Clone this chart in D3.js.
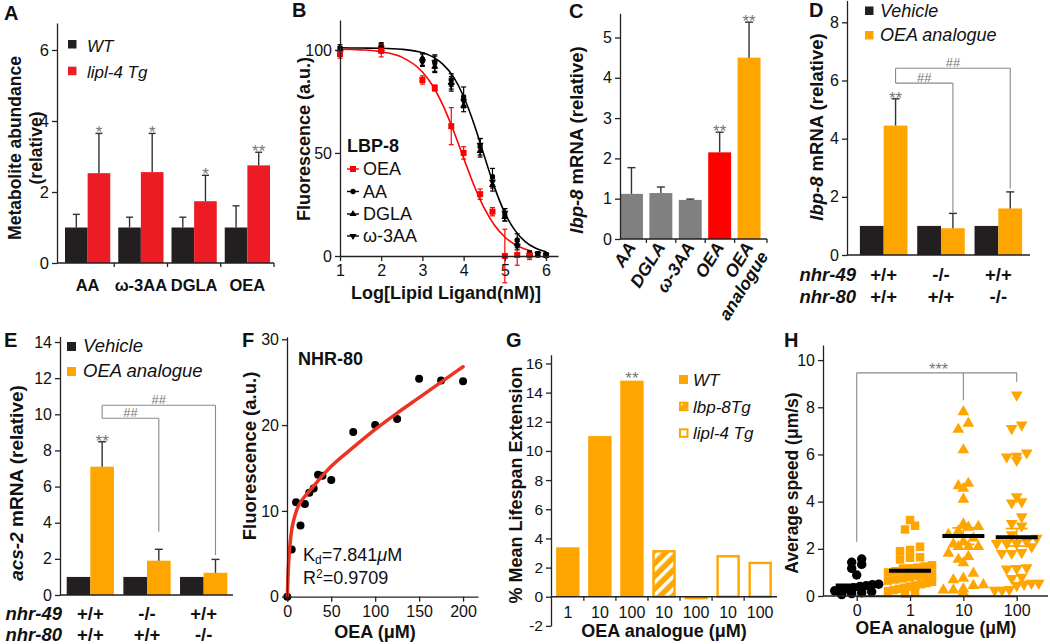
<!DOCTYPE html>
<html>
<head>
<meta charset="utf-8">
<script src="https://cdn.jsdelivr.net/npm/d3@7/dist/d3.min.js"></script>
<style>
html,body{margin:0;padding:0;background:#fff;}
svg{display:block;}
</style>
</head>
<body>
<script>
// ================= DATA =================
// Panel A
const aCategories = ["AA", "ω-3AA", "DGLA", "OEA"];
const aWT = [1.0, 1.0, 1.0, 1.0];
const aWTErrTop = [1.37, 1.29, 1.29, 1.61];
const aTg = [2.53, 2.56, 1.74, 2.75];
const aTgErrTop = [3.65, 3.65, 2.47, 3.12];
const aStars = ["*", "*", "*", "**"];
const aLegend = ["WT", "lipl-4 Tg"];
const aTicks = [0, 2, 4, 6];

// Panel B
const bX = [1, 2, 3, 3.3, 3.7, 4, 4.4, 4.7, 5, 5.3, 5.6, 5.8, 6];
const bAA = [101, 101.5, 95.5, 93.6, 85.4, 77, 53, 38.5, 20, 7.8, 1.5, 1, 0.5];
const bAAErr = [1.5, 2, 3, 4, 3, 5, 4, 4, 3, 3, 1, 1, 1];
const bDGLA = [100, 100.5, 96, 92, 84, 73, 51, 34.5, 19, 6, 1, 0.5, 0.5];
const bDGLAErr = [1.5, 2, 2, 3, 3, 3, 3, 3, 2, 2, 1, 1, 1];
const bW3AA = [99, 101, 94, 94, 83, 75, 54, 36, 21, 5, 0.5, 1, 0.3];
const bW3AAErr = [1.5, 2, 2, 3, 3, 3, 3, 3, 2, 2, 1, 1, 1];
const bXOEA = [1, 2, 3, 3.3, 3.7, 4, 4.4, 4.7, 5, 5.3, 5.6];
const bOEA = [98, 99.6, 85.4, 81.5, 63, 50, 30, 21.5, 0, 0.5, 0.3];
const bOEAErr = [2, 3, 2, 1.5, 9, 3, 2.5, 2, 13, 5, 2];
const bFitX = [1, 1.5, 2, 2.5, 3, 3.25, 3.5, 3.75, 4, 4.25, 4.5, 4.75, 5, 5.25, 5.5, 5.75, 6];
const bFitBlack = [101, 100.9, 100.8, 100.3, 98.6, 96.6, 93.0, 87.0, 77.4, 64.2, 48.6, 33.3, 20.9, 12.3, 6.9, 3.8, 2.1];
const bFitRedX = [1, 1.5, 2, 2.5, 3, 3.25, 3.5, 3.75, 4, 4.25, 4.5, 4.75, 5, 5.25, 5.5, 5.6];
const bFitRed = [100.3, 100.0, 99.1, 96.5, 89.3, 82.6, 73.1, 61.0, 47.5, 34.3, 23.2, 14.9, 9.2, 5.5, 3.3, 2.7];
const bLegend = ["OEA", "AA", "DGLA", "ω-3AA"];
const bXTicks = [1, 2, 3, 4, 5, 6];
const bYTicks = [0, 50, 100];

// Panel C
const cCategories = ["AA", "DGLA", "ω-3AA", "OEA", "OEA analogue"];
const cValues = [1.12, 1.14, 0.97, 2.15, 4.5];
const cErrTop = [1.77, 1.29, 0.99, 2.65, 5.38];
const cStars = ["", "", "", "**", "**"];
const cTicks = [0, 1, 2, 3, 4, 5];

// Panel D
const dNhr49 = ["+/+", "-/-", "+/+"];
const dNhr80 = ["+/+", "+/+", "-/-"];
const dVehicle = [1, 1, 1];
const dOEA = [4.45, 0.92, 1.6];
const dOEAErrTop = [5.37, 1.43, 2.17];
const dStars = ["**", "", ""];
const dTicks = [0, 2, 4, 6, 8];
const dBrackets = [{ to: 1, y: 5.91, drop: 1.44, label: "##" }, { to: 2, y: 6.42, drop: 2.29, label: "##" }];

// Panel E
const eNhr49 = ["+/+", "-/-", "+/+"];
const eNhr80 = ["+/+", "+/+", "-/-"];
const eVehicle = [1, 1, 1];
const eOEA = [7.1, 1.9, 1.23];
const eOEAErrTop = [8.48, 2.53, 1.97];
const eStars = ["**", "", ""];
const eTicks = [0, 2, 4, 6, 8, 10, 12, 14];
const eBrackets = [{ to: 1, y: 9.78, drop: 3.5, label: "##" }, { to: 2, y: 10.5, drop: 2.21, label: "##" }];

// Panel F
const fX = [0, 5, 10, 15, 20, 25, 30, 35, 40, 50, 75, 100, 125, 150, 175, 200];
const fY = [0, 5.5, 11.0, 8.3, 10.8, 12.1, 12.6, 14.2, 14.1, 13.6, 19.2, 20.0, 20.7, 25.4, 25.2, 25.1];
const fFitX = [0, 1, 2, 3, 5, 7.5, 10, 15, 20, 25, 30, 40, 50, 75, 100, 125, 150, 175, 200];
const fFitY = [0, 3.0, 4.8, 6.0, 7.8, 9.0, 9.9, 11.0, 11.7, 12.3, 12.9, 14.1, 15.2, 17.4, 19.5, 21.4, 23.2, 25.0, 26.8];
const fXTicks = [0, 50, 100, 150, 200];
const fYTicks = [0, 10, 20, 30];

// Panel G
const gLabels = ["1", "10", "100", "10", "100", "10", "100"];
const gValues = [3.39, 11.02, 14.82, 3.2, -0.18, 2.86, 2.4];
const gStrain = ["WT", "WT", "WT", "lbp-8Tg", "lbp-8Tg", "lipl-4 Tg", "lipl-4 Tg"];
const gStars = ["", "", "**", "", "", "", ""];
const gLegend = ["WT", "lbp-8Tg", "lipl-4 Tg"];
const gTicks = [-2, 0, 2, 4, 6, 8, 10, 12, 14, 16];

// Panel H
const hCategories = ["0", "1", "10", "100"];
const h0 = [1.57, 1.43, 1.34, 1.17, 0.89, 0.5, 0.48, 0.44, 0.4, 0.35, 0.3, 0.26, 0.22, 0.18, 0.14, 0.1, 0.06];
const h1 = [3.22, 2.98, 2.82, 2.09, 1.95, 1.9, 1.64, 1.62, 1.55, 1.3, 1.25, 1.2, 1.15, 1.1, 1.05, 1.0, 0.95, 0.9, 0.85, 0.8, 0.75, 0.7, 0.65, 0.6, 0.55, 0.5, 0.45, 0.4, 0.35, 0.3, 0.25, 0.2, 0.15, 0.1];
const h10 = [7.81, 7.32, 7.06, 6.19, 4.77, 4.67, 4.56, 4.1, 3.05, 2.94, 2.91, 2.75, 2.6, 2.45, 2.3, 2.2, 2.09, 2.09, 2.09, 1.81, 1.67, 1.55, 1.4, 0.96, 0.75, 0.68, 0.47, 0.44, 0.3, 0.25, 0.25, 0.15];
const h100 = [8.52, 7.25, 7.1, 6.07, 5.93, 5.9, 5.76, 4.21, 4.0, 3.95, 3.36, 3.08, 2.97, 2.6, 2.45, 2.3, 2.23, 2.23, 2.23, 2.09, 1.85, 1.81, 1.81, 1.2, 1.17, 1.15, 0.8, 0.75, 0.54, 0.54, 0.5, 0.45, 0.28, 0.25, 0.25];
const hMeans = [0.45, 1.07, 2.54, 2.49];
const hSEM = [0.1, 0.24, 0.35, 0.37];
const hTicks = [0, 2, 4, 6, 8, 10];
const hBracket = { y: 9.46, drops: [2.3, null, 8.3, 9.07], label: "***" };

// ================= DRAWING =================
const svg = d3.select("body").append("svg").attr("width", 1050).attr("height", 644);
const FONT = "'Liberation Sans', Arial, Helvetica, sans-serif";
const BLACK = "#231f20", RED_A = "#ed1c24", GREY = "#808080", RED = "#ff0000", ORANGE = "#ffa500";
const AX = "#222", SIG = "#8a8a8a", STAR = "#777";

const defs = svg.append("defs");
const pat = defs.append("pattern").attr("id", "hatch").attr("patternUnits", "userSpaceOnUse")
  .attr("width", 9).attr("height", 9).attr("patternTransform", "rotate(45)");
pat.append("rect").attr("width", 9).attr("height", 9).attr("fill", ORANGE);
pat.append("rect").attr("width", 3.5).attr("height", 9).attr("fill", "#fff");

function T(x, y, s, o = {}) {
  return svg.append("text").attr("x", x).attr("y", y).text(s)
    .attr("font-family", FONT).attr("font-size", o.fs || 16)
    .attr("font-weight", o.bold ? "bold" : "normal")
    .attr("font-style", o.italic ? "italic" : "normal")
    .attr("text-anchor", o.anchor || "start")
    .attr("fill", o.fill || "#111");
}
function rotTitle(x, cy, parts, fs) {
  const t = svg.append("text").attr("transform", `translate(${x},${cy}) rotate(-90)`)
    .attr("text-anchor", "middle").attr("font-family", FONT).attr("font-size", fs)
    .attr("font-weight", "bold").attr("fill", "#111");
  parts.forEach(p => t.append("tspan").attr("font-style", p[1] ? "italic" : "normal").text(p[0]));
  return t;
}
function line(x1, y1, x2, y2, col = AX, w = 1.3) {
  svg.append("line").attr("x1", x1).attr("y1", y1).attr("x2", x2).attr("y2", y2)
    .attr("stroke", col).attr("stroke-width", w);
}
function rect(x, y, w, h, fill) {
  return svg.append("rect").attr("x", x).attr("y", y).attr("width", w).attr("height", h).attr("fill", fill);
}
function errUp(x, y0, y1, cap = 7, col = "#333") {
  line(x, y0, x, y1, col, 1.4);
  line(x - cap / 2, y1, x + cap / 2, y1, col, 1.4);
}
function star(x, yPx, s, fs = 17) {
  if (!s) return;
  T(x, yPx + 5, s, { fs: fs, anchor: "middle", fill: STAR });
}
function styleAxis(g, fs) {
  g.attr("font-family", FONT);
  g.select(".domain").attr("stroke", AX).attr("stroke-width", 1.3);
  g.selectAll(".tick line").attr("stroke", AX).attr("stroke-width", 1.3);
  g.selectAll(".tick text").attr("font-size", fs).attr("fill", "#111").attr("font-family", FONT);
}
function leftAxis(x, scale, ticks, fs = 16) {
  const ax = d3.axisLeft(scale).tickValues(ticks).tickSize(5).tickSizeOuter(0).tickPadding(3).tickFormat(d => String(d));
  const g = svg.append("g").attr("transform", `translate(${x},0)`).call(ax);
  styleAxis(g, fs);
  return g;
}
function bottomAxis(y, scale, ticks, fs = 16) {
  const ax = d3.axisBottom(scale).tickValues(ticks).tickSize(5).tickSizeOuter(0).tickPadding(4).tickFormat(d => String(d));
  const g = svg.append("g").attr("transform", `translate(0,${y})`).call(ax);
  styleAxis(g, fs);
  return g;
}

// ---------- Panel A ----------
(function () {
  const y = d3.scaleLinear([0, 6.76], [263, 23]);
  const gx = d3.scaleBand(aCategories, [61, 274]).paddingInner(0.15).paddingOuter(0.075);
  const sx = d3.scaleBand([0, 1], [0, gx.bandwidth()]);
  const bw = sx.bandwidth();
  aCategories.forEach((c, i) => {
    const x0 = gx(c);
    rect(x0, y(aWT[i]), bw, y(0) - y(aWT[i]), BLACK);
    rect(x0 + bw, y(aTg[i]), bw, y(0) - y(aTg[i]), RED_A);
    errUp(x0 + bw / 2, y(aWT[i]), y(aWTErrTop[i]));
    errUp(x0 + bw * 1.5, y(aTg[i]), y(aTgErrTop[i]));
    star(x0 + bw * 1.5, y(aTgErrTop[i]), aStars[i]);
    T(x0 + gx.bandwidth() / 2, 291, c, { fs: 16.5, bold: true, anchor: "middle" });
    const tb = x0 + gx.bandwidth() + gx.step() * gx.paddingInner() / 2;
    line(tb, y(0), tb, y(0) + 4);
  });
  leftAxis(57, y, aTicks, 16.5);
  line(57, y(0), 274, y(0));
  rect(68, 40, 8.5, 8.5, BLACK);
  rect(68, 66.7, 8.5, 8.5, RED_A);
  T(87, 51.5, aLegend[0], { fs: 17, italic: true });
  T(87, 77.5, aLegend[1], { fs: 17, italic: true });
  rotTitle(21, 148, [["Metabolite abundance", false]], 17.5);
  rotTitle(42, 148, [["(relative)", false]], 17.5);
  T(4, 20, "A", { fs: 20, bold: true });
})();

// ---------- Panel B ----------
(function () {
  const x = d3.scaleLinear([1, 6.29], [340, 558]);
  const y = d3.scaleLinear([0, 114.5], [256, 20]);
  const ln = d3.line().x(d => x(d[0])).y(d => y(d[1])).curve(d3.curveMonotoneX);
  svg.append("path").attr("d", ln(bFitX.map((v, i) => [v, bFitBlack[i]]))).attr("fill", "none").attr("stroke", "#000").attr("stroke-width", 1.6);
  svg.append("path").attr("d", ln(bFitRedX.map((v, i) => [v, bFitRed[i]]))).attr("fill", "none").attr("stroke", RED).attr("stroke-width", 1.6);
  function errs(xs, ys, es, col) {
    xs.forEach((v, i) => {
      const px = x(v);
      line(px, y(ys[i] - es[i]), px, y(ys[i] + es[i]), col, 1.2);
      line(px - 2.5, y(ys[i] + es[i]), px + 2.5, y(ys[i] + es[i]), col, 1.2);
      line(px - 2.5, y(ys[i] - es[i]), px + 2.5, y(ys[i] - es[i]), col, 1.2);
    });
  }
  errs(bX, bAA, bAAErr, "#000");
  errs(bX, bDGLA, bDGLAErr, "#000");
  errs(bX, bW3AA, bW3AAErr, "#000");
  errs(bXOEA, bOEA, bOEAErr, RED);
  const sym = (type, size) => d3.symbol().type(type).size(size)();
  bX.forEach((v, i) => {
    svg.append("path").attr("d", sym(d3.symbolCircle, 22)).attr("transform", `translate(${x(v)},${y(bAA[i])})`).attr("fill", "#000");
    svg.append("path").attr("d", sym(d3.symbolTriangle, 22)).attr("transform", `translate(${x(v)},${y(bDGLA[i])})`).attr("fill", "#000");
    svg.append("path").attr("d", sym(d3.symbolTriangle, 22)).attr("transform", `translate(${x(v)},${y(bW3AA[i])}) rotate(180)`).attr("fill", "#000");
  });
  bXOEA.forEach((v, i) => {
    rect(x(v) - 3, y(bOEA[i]) - 3, 6, 6, RED);
  });
  leftAxis(340, y, bYTicks, 16);
  bottomAxis(256, x, bXTicks, 16);
  // legend
  T(347, 152, "LBP-8", { fs: 18, bold: true });
  const ly = [175, 197.5, 220, 242];
  bLegend.forEach((s, i) => {
    const col = i === 0 ? RED : "#000";
    const my = ly[i] - 6;
    line(347, my, 359, my, col, 1.4);
    if (i === 0) rect(350, my - 3, 6, 6, RED);
    else if (i === 1) svg.append("path").attr("d", sym(d3.symbolCircle, 22)).attr("transform", `translate(353,${my})`).attr("fill", "#000");
    else if (i === 2) svg.append("path").attr("d", sym(d3.symbolTriangle, 22)).attr("transform", `translate(353,${my})`).attr("fill", "#000");
    else svg.append("path").attr("d", sym(d3.symbolTriangle, 22)).attr("transform", `translate(353,${my}) rotate(180)`).attr("fill", "#000");
    T(363, ly[i], s, { fs: 18 });
  });
  rotTitle(310, 139, [["Fluorescence (a.u.)", false]], 18);
  T(446, 299, "Log[Lipid Ligand(nM)]", { fs: 18, bold: true, anchor: "middle" });
  T(292, 17, "B", { fs: 20, bold: true });
})();

// ---------- Panel C ----------
(function () {
  const y = d3.scaleLinear([0, 5.6], [239, 13.3]);
  const x = d3.scaleBand(cCategories, [620, 767]).paddingInner(0.22).paddingOuter(0.11).align(0);
  const cols = [GREY, GREY, GREY, RED, ORANGE];
  const bw = x.bandwidth();
  cCategories.forEach((c, i) => {
    rect(x(c), y(cValues[i]), bw, y(0) - y(cValues[i]), cols[i]);
    errUp(x(c) + bw / 2, y(cValues[i]), y(cErrTop[i]), 8);
    star(x(c) + bw / 2, y(cErrTop[i]), cStars[i]);
    if (i > 0) line(x(c) - 3, y(0), x(c) - 3, y(0) + 4);
    const lx = x(c) + bw / 2 + 5, lyy = 247;
    const t = svg.append("text").attr("transform", `translate(${lx},${lyy}) rotate(-58)`)
      .attr("text-anchor", "end").attr("font-family", FONT).attr("font-size", 17.5)
      .attr("font-weight", "bold").attr("font-style", "italic").attr("fill", "#111");
    const parts = c.split(" ");
    parts.forEach((p, k) => t.append("tspan").attr("x", 0).attr("dy", k === 0 ? 0 : "1.0em").text(p));
  });
  line(767, y(0), 767, y(0) + 4);
  leftAxis(620, y, cTicks, 16);
  line(620, y(0), 767, y(0));
  rotTitle(583, 140, [["lbp-8", true], [" mRNA (relative)", false]], 18.5);
  T(569, 18, "C", { fs: 20, bold: true });
})();

// ---------- Panels D and E (genotype bars) ----------
function genoPanel(cfg) {
  const { y, gx, veh, oea, errTop, stars, brackets, axisX, axisEnd, ticks, g49, g80, rowX, row1, row2, fs } = cfg;
  const sx = d3.scaleBand([0, 1], [0, gx.bandwidth()]);
  const bw = sx.bandwidth();
  veh.forEach((v, i) => {
    const x0 = gx(i);
    rect(x0, y(v), bw, y(0) - y(v), BLACK);
    rect(x0 + bw, y(oea[i]), bw, y(0) - y(oea[i]), ORANGE);
    errUp(x0 + bw * 1.5, y(oea[i]), y(errTop[i]), 8);
    star(x0 + bw * 1.5, y(errTop[i]), stars[i]);
    const cx = x0 + gx.bandwidth() / 2;
    T(cx, row1, g49[i], { fs: fs, bold: true, anchor: "middle" });
    T(cx, row2, g80[i], { fs: fs, bold: true, anchor: "middle" });
  });
  const xc = i => gx(i) + bw * 1.5;
  const ys = brackets.map(b => y(b.y));
  line(xc(0), d3.min(ys), xc(0), d3.max(ys), SIG, 1.1);
  brackets.forEach(b => {
    line(xc(0), y(b.y), xc(b.to), y(b.y), SIG, 1.1);
    line(xc(b.to), y(b.y), xc(b.to), y(b.drop), SIG, 1.1);
    T((xc(0) + xc(b.to)) / 2, y(b.y) - 1.5, b.label, { fs: 13, anchor: "middle", fill: "#777" });
  });
  leftAxis(axisX, y, ticks, 16);
  line(axisX, y(0), axisEnd, y(0));
  T(rowX, row1, "nhr-49", { fs: fs, bold: true, italic: true, anchor: "end" });
  T(rowX, row2, "nhr-80", { fs: fs, bold: true, italic: true, anchor: "end" });
}

(function () {
  const y = d3.scaleLinear([0, 8.75], [255, 0.5]);
  const gx = d3.scaleBand([0, 1, 2], [855, 1027]).paddingInner(0.17).paddingOuter(0.085);
  genoPanel({ y, gx, veh: dVehicle, oea: dOEA, errTop: dOEAErrTop, stars: dStars, brackets: dBrackets,
    axisX: 847, axisEnd: 1030, ticks: dTicks, g49: dNhr49, g80: dNhr80, rowX: 856, row1: 281, row2: 303, fs: 18.5 });
  rect(865, 6.5, 8.5, 8.5, BLACK);
  rect(865, 31, 8.5, 8.5, ORANGE);
  T(880, 16.7, "Vehicle", { fs: 18, italic: true });
  T(880, 41, "OEA analogue", { fs: 18, italic: true });
  rotTitle(823, 127, [["lbp-8", true], [" mRNA (relative)", false]], 18.5);
  T(809, 17, "D", { fs: 20, bold: true });
})();

(function () {
  const y = d3.scaleLinear([0, 14.3], [595, 336.6]);
  const gx = d3.scaleBand([0, 1, 2], [62, 232]).paddingInner(0.166).paddingOuter(0.083);
  genoPanel({ y, gx, veh: eVehicle, oea: eOEA, errTop: eOEAErrTop, stars: eStars, brackets: eBrackets,
    axisX: 60, axisEnd: 233, ticks: eTicks, g49: eNhr49, g80: eNhr80, rowX: 62, row1: 619.5, row2: 640.5, fs: 18.5 });
  rect(67, 342, 9, 9, BLACK);
  rect(67, 367, 9, 9, ORANGE);
  T(83, 352.3, "Vehicle", { fs: 18.5, italic: true });
  T(83, 377.3, "OEA analogue", { fs: 18.5, italic: true });
  rotTitle(23, 483, [["acs-2", true], [" mRNA (relative)", false]], 19);
  T(4, 347, "E", { fs: 20, bold: true });
})();

// ---------- Panel F ----------
(function () {
  const x = d3.scaleLinear([0, 217], [287.3, 478]);
  const y = d3.scaleLinear([0, 30.3], [596.7, 336.7]);
  fX.forEach((v, i) => {
    svg.append("circle").attr("cx", x(v)).attr("cy", y(fY[i])).attr("r", 4).attr("fill", "#000");
  });
  const ln = d3.line().x(d => x(d[0])).y(d => y(d[1])).curve(d3.curveMonotoneX);
  svg.append("path").attr("d", ln(fFitX.map((v, i) => [v, fFitY[i]]))).attr("fill", "none")
    .attr("stroke", "#ee3322").attr("stroke-width", 3.5).attr("stroke-linecap", "round");
  leftAxis(287, y, fYTicks, 16);
  bottomAxis(596.7, x, fXTicks, 16);
  T(298, 365, "NHR-80", { fs: 18, bold: true });
  const k = T(303, 561, "K", { fs: 18 });
  k.append("tspan").attr("font-size", 12).attr("dy", 2.5).text("d");
  k.append("tspan").attr("dy", -2.5).text("=7.841");
  k.append("tspan").attr("font-style", "italic").text("μ");
  k.append("tspan").text("M");
  const r = T(303, 584, "R", { fs: 18 });
  r.append("tspan").attr("font-size", 12).attr("dy", -6).text("2");
  r.append("tspan").attr("dy", 6).text("=0.9709");
  rotTitle(256, 456, [["Fluorescence (a.u.)", false]], 18.5);
  T(375, 638, "OEA (μM)", { fs: 18, bold: true, anchor: "middle" });
  T(242, 347, "F", { fs: 20, bold: true });
})();

// ---------- Panel G ----------
(function () {
  const y = d3.scaleLinear([-2, 16.6], [625.9, 354.7]);
  const idx = d3.range(gValues.length);
  const x = d3.scaleBand(idx, [551, 777]).paddingInner(0.27).paddingOuter(0.16);
  const bw = x.bandwidth();
  idx.forEach(i => {
    const v = gValues[i];
    const top = Math.min(y(v), y(0)), h = Math.abs(y(v) - y(0));
    const s = gStrain[i];
    if (s === "WT") rect(x(i), top, bw, h, ORANGE);
    else if (s === "lbp-8Tg") {
      if (h > 4) rect(x(i) + 1.2, top + 1.2, bw - 2.4, h - 1.2, "url(#hatch)").attr("stroke", ORANGE).attr("stroke-width", 2.4);
      else rect(x(i), top, bw, h, ORANGE);
    } else rect(x(i) + 1.2, top + 1.2, bw - 2.4, h - 1.2, "#fff").attr("stroke", ORANGE).attr("stroke-width", 2.4);
    star(x(i) + bw / 2, y(v) - 2, gStars[i]);
    T(x(i) + bw / 2, 618, gLabels[i], { fs: 16, anchor: "middle" });
    if (i > 0) line(x(i) - x.step() * x.paddingInner() / 2, y(0), x(i) - x.step() * x.paddingInner() / 2, y(0) + 4);
  });
  leftAxis(551, y, gTicks, 15.5);
  line(551, y(0), 777, y(0));
  // legend
  const lyq = [375, 401.7, 428.3];
  rect(679, lyq[0], 9, 9, ORANGE);
  rect(680, lyq[1] + 1, 7.5, 7.5, "url(#hatch)").attr("stroke", ORANGE).attr("stroke-width", 2);
  rect(680, lyq[2] + 1, 7.5, 7.5, "#fff").attr("stroke", ORANGE).attr("stroke-width", 2);
  gLegend.forEach((s, i) => T(693, lyq[i] + 11, s, { fs: 17, italic: true }));
  rotTitle(522, 485, [["% Mean Lifespan Extension", false]], 18);
  T(664, 637, "OEA analogue (μM)", { fs: 18, bold: true, anchor: "middle" });
  T(506, 347, "G", { fs: 20, bold: true });
})();

// ---------- Panel H ----------
(function () {
  const x = d3.scalePoint(hCategories, [856.7, 1016.7]);
  const y = d3.scaleLinear([0, 10.64], [596, 345]);
  const groups = [h0, h1, h10, h100];
  function swarm(vals, binH, sp, maxW) {
    const ids = vals.map((v, i) => i);
    const bins = d3.group(ids, i => Math.round(vals[i] / binH));
    const dx = new Array(vals.length).fill(0);
    for (const arr of bins.values()) {
      arr.sort((a, b) => vals[a] - vals[b]);
      const n = arr.length;
      const s = n > 1 ? Math.min(sp, maxW / (n - 1)) : 0;
      arr.forEach((id, k) => { dx[id] = (k - (n - 1) / 2) * s; });
    }
    return dx;
  }
  const symTypes = [d3.symbolCircle, d3.symbolSquare, d3.symbolTriangle, d3.symbolTriangle];
  const symSize = [70, 72, 60, 60];
  const fills = ["#000", ORANGE, ORANGE, ORANGE];
  groups.forEach((vals, gi) => {
    const dx = swarm(vals, 0.4, 10, 44);
    const cx = x(hCategories[gi]);
    const path = d3.symbol().type(symTypes[gi]).size(symSize[gi])();
    vals.forEach((v, i) => {
      svg.append("path").attr("d", path)
        .attr("transform", `translate(${cx + dx[i]},${y(v)})${gi === 3 ? " rotate(180)" : ""}`)
        .attr("fill", fills[gi]);
    });
  });
  hCategories.forEach((c, gi) => {
    const cx = x(c);
    if (gi > 0) {
      const yt = y(hMeans[gi] + hSEM[gi]), yb = y(hMeans[gi] - hSEM[gi]);
      line(cx, yt, cx, yb, ORANGE, 1.5);
      line(cx - 11, yt, cx + 11, yt, ORANGE, 1.8);
      line(cx - 11, yb, cx + 11, yb, ORANGE, 1.8);
    }
    line(cx - 21, y(hMeans[gi]), cx + 21, y(hMeans[gi]), "#000", 4);
  });
  // significance bracket
  const by = y(hBracket.y);
  line(x("0"), by, x("100"), by, SIG, 1.1);
  hBracket.drops.forEach((d, gi) => {
    if (d !== null) line(x(hCategories[gi]), by, x(hCategories[gi]), y(d), SIG, 1.1);
  });
  T((x("0") + x("100")) / 2 + 2, by + 2.5, hBracket.label, { fs: 16, anchor: "middle", fill: STAR });
  leftAxis(823, y, hTicks, 16);
  bottomAxis(596, x, hCategories, 16);
  line(823, y(0), 1048, y(0));
  rotTitle(798, 483, [["Average speed (μm/s)", false]], 17.5);
  T(936, 634, "OEA analogue (μM)", { fs: 17.5, bold: true, anchor: "middle" });
  T(784, 347, "H", { fs: 20, bold: true });
})();
</script>
</body>
</html>
